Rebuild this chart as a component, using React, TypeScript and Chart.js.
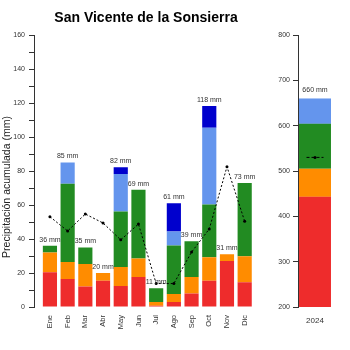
import React, { useEffect, useRef } from "react";
import { Chart, registerables } from "chart.js";

Chart.register(...registerables);

const months = ["Ene", "Feb", "Mar", "Abr", "May", "Jun", "Jul", "Ago", "Sep", "Oct", "Nov", "Dic"];
const redVals = [20.5, 16.5, 12, 15.4, 12.3, 17.7, 0.8, 2.9, 8, 15.4, 27, 14.6];
const orangeVals = [11.6, 10, 13.3, 4.6, 11.2, 10.9, 2.1, 4.7, 9.7, 13.8, 4, 15.2];
const greenVals = [3.9, 46, 9.7, null, 32.7, 40.4, 8.1, 28.6, 21, 31.1, null, 43.2];
const lightBlueVals = [null, 12.5, null, null, 22, null, null, 8.2, null, 45.2, null, null];
const darkBlueVals = [null, null, null, null, 4, null, null, 16.7, null, 12.7, null, null];
const avgVals = [53.1, 44.7, 54.7, 49.4, 39.5, 48.8, 13.8, 13.8, 32.3, 45.9, 82.5, 50.4];

const years = ["2024"];
const yearRed = [443];
const yearOrange = [62];
const yearGreen = [99];
const yearLightBlue = [56];
const yearAvg = 530;

const titleText = "San Vicente de la Sonsierra";
const yTitleText = "Precipitación acumulada (mm)";

const RED = "#EE2C2C";
const ORANGE = "#FF8C00";
const GREEN = "#228B22";
const LBLUE = "#6495ED";
const DBLUE = "#0000CD";
const FONT = "'Liberation Sans', Arial, sans-serif";
const AXIS = "#333333";

const series = [
  { v: redVals, c: RED },
  { v: orangeVals, c: ORANGE },
  { v: greenVals, c: GREEN },
  { v: lightBlueVals, c: LBLUE },
  { v: darkBlueVals, c: DBLUE },
];

const yearSeries = [
  { v: yearRed, c: RED },
  { v: yearOrange, c: ORANGE },
  { v: yearGreen, c: GREEN },
  { v: yearLightBlue, c: LBLUE },
];

export default function App() {
  const leftRef = useRef<HTMLCanvasElement | null>(null);
  const rightRef = useRef<HTMLCanvasElement | null>(null);

  useEffect(() => {
    const leftPlugin = {
      id: "leftDecor",
      afterDatasetsDraw(chart: any) {
        const ctx = chart.ctx;
        const xs = chart.scales.x;
        const ys = chart.scales.y;
        ctx.save();
        ctx.fillStyle = "#333";
        ctx.font = `7px ${FONT}`;
        ctx.textAlign = "center";
        ctx.textBaseline = "middle";
        months.forEach((_, i) => {
          let total = 0;
          series.forEach((s) => (total += (s.v[i] as number) || 0));
          ctx.fillText(`${Math.round(total)} mm`, xs.getPixelForValue(i), ys.getPixelForValue(total) - 6);
        });
        ctx.restore();
      },
      afterDraw(chart: any) {
        const ctx = chart.ctx;
        ctx.save();
        ctx.fillStyle = "#000";
        ctx.font = `bold 14px ${FONT}`;
        ctx.textAlign = "center";
        ctx.textBaseline = "middle";
        ctx.fillText(titleText, 146, 18);
        ctx.translate(7, 187);
        ctx.rotate(-Math.PI / 2);
        ctx.font = `10.5px ${FONT}`;
        ctx.fillStyle = "#222";
        ctx.fillText(yTitleText, 0, 0);
        ctx.restore();
      },
    };

    const left = new Chart(leftRef.current as HTMLCanvasElement, {
      type: "bar",
      data: {
        datasets: [
          {
            type: "line",
            data: avgVals.map((v, i) => ({ x: i, y: v })),
            borderColor: "#000",
            borderWidth: 1,
            borderDash: [2, 2],
            pointRadius: 1.5,
            pointBackgroundColor: "#000",
            pointBorderWidth: 0,
            stack: "avg",
            order: 0,
          } as any,
          ...series.map((s) => ({
            type: "bar",
            data: s.v.map((v, i) => ({ x: i, y: v })),
            backgroundColor: s.c,
            borderWidth: 0,
            stack: "bars",
            order: 1,
            categoryPercentage: 1,
            barPercentage: 0.8,
          })),
        ],
      } as any,
      options: {
        animation: false,
        responsive: false,
        layout: { padding: { top: 35, right: 8, left: 0, bottom: 0 } },
        plugins: { legend: { display: false }, tooltip: { enabled: false }, title: { display: false } },
        scales: {
          x: {
            type: "linear",
            min: -0.9,
            max: 11.5,
            offset: false,
            stacked: true,
            grid: { display: false, drawTicks: false, offset: false },
            border: { display: false },
            afterBuildTicks: (scale: any) => {
              scale.ticks = months.map((_, i) => ({ value: i }));
            },
            afterFit: (scale: any) => {
              scale.height = 43;
            },
            ticks: {
              autoSkip: false,
              minRotation: 90,
              maxRotation: 90,
              padding: 8,
              color: "#333",
              font: { family: FONT, size: 7.5 },
              callback: (v: any) => months[v] ?? "",
            },
          },
          y: {
            type: "linear",
            min: 0,
            max: 160,
            stacked: true,
            afterFit: (scale: any) => {
              scale.width = 34;
            },
            grid: { drawOnChartArea: false, tickLength: 5, color: AXIS },
            border: { display: true, color: AXIS, width: 1 },
            ticks: {
              stepSize: 10,
              autoSkip: false,
              padding: 4,
              color: "#333",
              font: { family: FONT, size: 7 },
              callback: (v: any) => (v % 20 === 0 ? String(v) : ""),
            },
          },
        },
      } as any,
      plugins: [leftPlugin],
    });

    const rightPlugin = {
      id: "rightDecor",
      afterDatasetsDraw(chart: any) {
        const ctx = chart.ctx;
        const xs = chart.scales.x;
        const ys = chart.scales.y;
        ctx.save();
        ctx.fillStyle = "#333";
        ctx.font = `7px ${FONT}`;
        ctx.textAlign = "center";
        ctx.textBaseline = "middle";
        years.forEach((_, i) => {
          let total = 0;
          yearSeries.forEach((s) => (total += s.v[i] || 0));
          ctx.fillText(`${Math.round(total)} mm`, xs.getPixelForValue(i), ys.getPixelForValue(total) - 8);
        });
        ctx.restore();
      },
    };

    const right = new Chart(rightRef.current as HTMLCanvasElement, {
      type: "bar",
      data: {
        labels: years,
        datasets: [
          {
            type: "line",
            xAxisID: "x2",
            data: [
              { x: -0.5, y: yearAvg },
              { x: 0, y: yearAvg },
              { x: 0.5, y: yearAvg },
            ],
            borderColor: "#000",
            borderWidth: 1,
            borderDash: [3, 2],
            pointRadius: [0, 1.5, 0],
            pointBackgroundColor: "#000",
            pointBorderWidth: 0,
            stack: "avg",
            order: 0,
          } as any,
          ...yearSeries.map((s) => ({
            type: "bar",
            xAxisID: "x",
            data: s.v,
            backgroundColor: s.c,
            borderWidth: 0,
            stack: "bars",
            grouped: false,
            order: 1,
            categoryPercentage: 1,
            barPercentage: 0.94,
          })),
        ],
      } as any,
      options: {
        animation: false,
        responsive: false,
        layout: { padding: { top: 35, right: 18, left: 0, bottom: 0 } },
        plugins: { legend: { display: false }, tooltip: { enabled: false }, title: { display: false } },
        scales: {
          x: {
            type: "category",
            stacked: true,
            grid: { display: false, drawTicks: false },
            border: { display: false },
            afterFit: (scale: any) => {
              scale.height = 43;
            },
            ticks: {
              padding: 9,
              color: "#333",
              font: { family: FONT, size: 8 },
            },
          },
          x2: {
            type: "linear",
            display: false,
            offset: false,
            min: -1,
            max: 1,
          },
          y: {
            type: "linear",
            min: 200,
            max: 800,
            stacked: true,
            afterFit: (scale: any) => {
              scale.width = 36;
            },
            grid: { drawOnChartArea: false, tickLength: 5, color: AXIS },
            border: { display: true, color: AXIS, width: 1 },
            ticks: {
              stepSize: 100,
              autoSkip: false,
              padding: 3,
              color: "#333",
              font: { family: FONT, size: 7 },
            },
          },
        },
      } as any,
      plugins: [rightPlugin],
    });

    return () => {
      left.destroy();
      right.destroy();
    };
  }, []);

  return (
    <div style={{ position: "fixed", left: 0, top: 0, width: 350, height: 350, background: "#fff" }}>
      <canvas
        ref={leftRef}
        width={262}
        height={350}
        style={{ position: "absolute", left: 0, top: 0, width: 262, height: 350, display: "block" }}
      />
      <canvas
        ref={rightRef}
        width={88}
        height={350}
        style={{ position: "absolute", left: 262, top: 0, width: 88, height: 350, display: "block" }}
      />
    </div>
  );
}
